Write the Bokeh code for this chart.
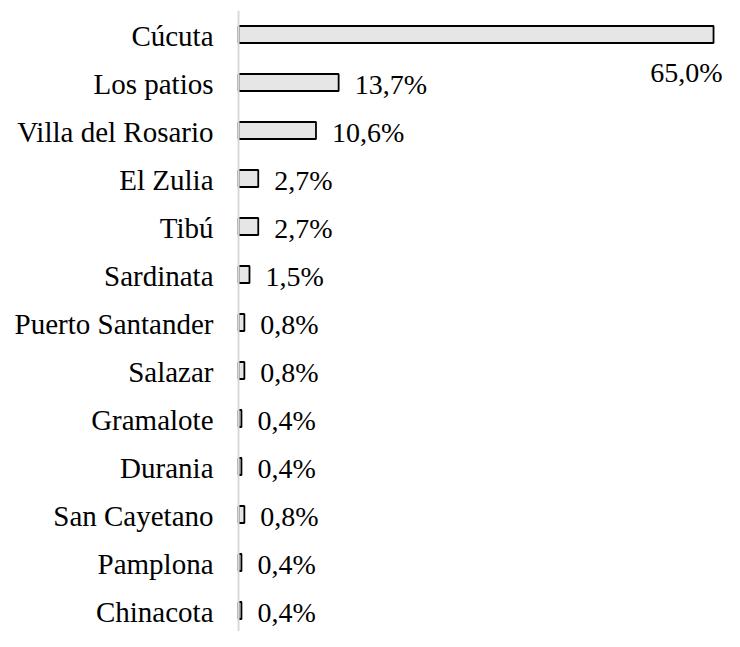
from bokeh.plotting import figure
from bokeh.models import ColumnDataSource, Range1d, Span
from bokeh.core.properties import value
from bokeh.embed import file_html
from bokeh.resources import INLINE

categories = ["Cúcuta", "Los patios", "Villa del Rosario", "El Zulia", "Tibú",
              "Sardinata", "Puerto Santander", "Salazar", "Gramalote", "Durania",
              "San Cayetano", "Pamplona", "Chinacota"]
values = [65.0, 13.7, 10.6, 2.7, 2.7, 1.5, 0.8, 0.8, 0.4, 0.4, 0.8, 0.4, 0.4]
labels = ["65,0%", "13,7%", "10,6%", "2,7%", "2,7%", "1,5%", "0,8%", "0,8%",
          "0,4%", "0,4%", "0,8%", "0,4%", "0,4%"]

idx = list(range(len(categories)))
src = ColumnDataSource(dict(y=idx, v=values, lab=labels, cat=categories,
                            zero=[0] * len(idx)))
src_first = ColumnDataSource(dict(y=idx[:1], v=values[:1], lab=labels[:1]))
src_rest = ColumnDataSource(dict(y=idx[1:], v=values[1:], lab=labels[1:]))

SERIF = value("'Liberation Serif'")

p = figure(width=724, height=631, output_backend="svg", toolbar_location=None,
           x_range=Range1d(-32.57, 66.5), y_range=Range1d(12.4375, -0.5),
           min_border_left=0, min_border_right=0, min_border_top=10,
           min_border_bottom=0)
p.outline_line_color = None
p.xgrid.visible = False
p.ygrid.visible = False
p.xaxis.visible = False
p.yaxis.visible = False
p.background_fill_color = "white"

# axis line
p.add_layout(Span(location=0, dimension="height", line_color="#d9d9d9",
                  line_width=2))

p.hbar(y="y", left=0, right="v", height=0.354, source=src,
       fill_color="#e7e6e6", line_color="black", line_width=1.8)

# category labels
p.text(x="zero", y="y", text="cat", source=src, text_font=SERIF,
       text_font_size="29px", text_color="black", text_align="right",
       text_baseline="middle", x_offset=-25, y_offset=1)

# value labels
p.text(x="v", y="y", text="lab", source=src_rest, text_font=SERIF,
       text_font_size="28px", text_color="black", text_align="left",
       text_baseline="middle", x_offset=16, y_offset=2)
p.text(x="v", y="y", text="lab", source=src_first, text_font=SERIF,
       text_font_size="28px", text_color="black", text_align="right",
       text_baseline="middle", x_offset=9, y_offset=38)

open("out.html", "w").write(file_html(p, INLINE))
